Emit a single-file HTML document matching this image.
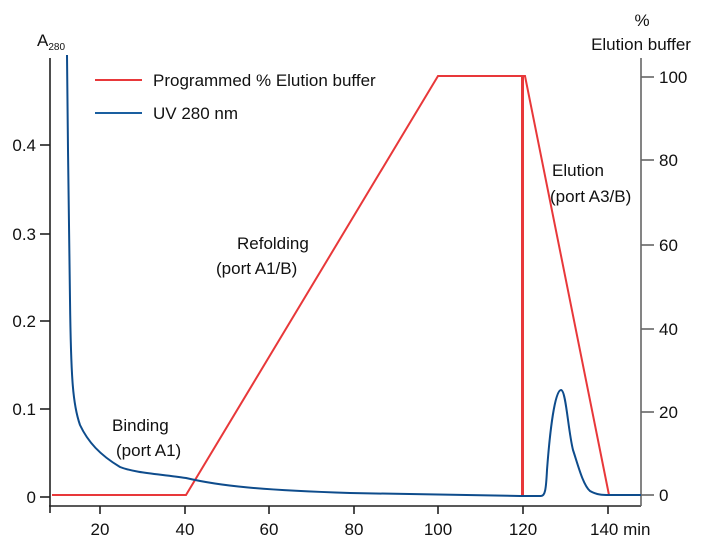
<!DOCTYPE html>
<html><head><meta charset="utf-8"><style>
html,body{margin:0;padding:0;background:#fff;}
svg{display:block;font-family:"Liberation Sans",sans-serif;}
</style></head><body>
<svg width="702" height="543" viewBox="0 0 702 543">
<g stroke="#222" stroke-width="1.6" fill="none">
<line x1="50" y1="58" x2="50" y2="513"/>
<line x1="49" y1="506" x2="641" y2="506"/>
<line x1="641" y1="58" x2="641" y2="506" stroke="#666"/>
<line x1="40" y1="497" x2="50" y2="497"/>
<line x1="40" y1="409" x2="50" y2="409"/>
<line x1="40" y1="321" x2="50" y2="321"/>
<line x1="40" y1="234" x2="50" y2="234"/>
<line x1="40" y1="145" x2="50" y2="145"/>
<line x1="100" y1="506" x2="100" y2="514"/>
<line x1="185" y1="506" x2="185" y2="514"/>
<line x1="269" y1="506" x2="269" y2="514"/>
<line x1="354" y1="506" x2="354" y2="514"/>
<line x1="438" y1="506" x2="438" y2="514"/>
<line x1="523" y1="506" x2="523" y2="514"/>
<line x1="608" y1="506" x2="608" y2="514"/>
<g stroke="#666"><line x1="641" y1="495" x2="654" y2="495"/>
<line x1="641" y1="412" x2="654" y2="412"/>
<line x1="641" y1="329" x2="654" y2="329"/>
<line x1="641" y1="245" x2="654" y2="245"/>
<line x1="641" y1="160" x2="654" y2="160"/>
<line x1="641" y1="77" x2="654" y2="77"/></g>
</g>
<g font-size="17" fill="#111">
<text x="36" y="503" text-anchor="end">0</text>
<text x="36" y="415" text-anchor="end">0.1</text>
<text x="36" y="327" text-anchor="end">0.2</text>
<text x="36" y="240" text-anchor="end">0.3</text>
<text x="36" y="151" text-anchor="end">0.4</text>
<text x="100" y="535" text-anchor="middle">20</text>
<text x="185" y="535" text-anchor="middle">40</text>
<text x="269" y="535" text-anchor="middle">60</text>
<text x="354" y="535" text-anchor="middle">80</text>
<text x="438" y="535" text-anchor="middle">100</text>
<text x="523" y="535" text-anchor="middle">120</text>
<text x="590" y="535">140 min</text>
<text x="659" y="501">0</text>
<text x="659" y="418">20</text>
<text x="659" y="335">40</text>
<text x="659" y="251">60</text>
<text x="659" y="166">80</text>
<text x="659" y="83">100</text>
<text x="37" y="46">A<tspan font-size="10" dy="4">280</tspan></text>
<text x="642" y="26" text-anchor="middle">%</text>
<text x="641" y="50" text-anchor="middle">Elution buffer</text>
<text x="153" y="86">Programmed % Elution buffer</text>
<text x="153" y="119">UV 280 nm</text>
<text x="237" y="249">Refolding</text>
<text x="216" y="274">(port A1/B)</text>
<text x="552" y="176">Elution</text>
<text x="550" y="202">(port A3/B)</text>
<text x="112" y="431">Binding</text>
<text x="116" y="456">(port A1)</text>
</g>
<line x1="95" y1="80" x2="142" y2="80" stroke="#e8383a" stroke-width="2"/>
<line x1="95" y1="113" x2="142" y2="113" stroke="#1a5fa0" stroke-width="2"/>
<polyline fill="none" stroke="#e8383a" stroke-width="2" points="52,495 186,495 438,76 522,76 522,494 523,494 523,76 525,76 609,495"/>
<path fill="none" stroke="#0e4c8c" stroke-width="2" d="M67,55 L68,150 L70,300 C71,380 73,405 80,425 C88,442 100,455 120,467 C135,473 160,474 186,478 C220,486 260,490 350,493 L520,496 L541,496 C545,496 546,490 547,470 C550,430 555,390 561,390 C566,390 568,430 573,450 C578,465 583,485 590,491 C597,495 603,495 609,495 L641,495"/>
</svg>
</body></html>
